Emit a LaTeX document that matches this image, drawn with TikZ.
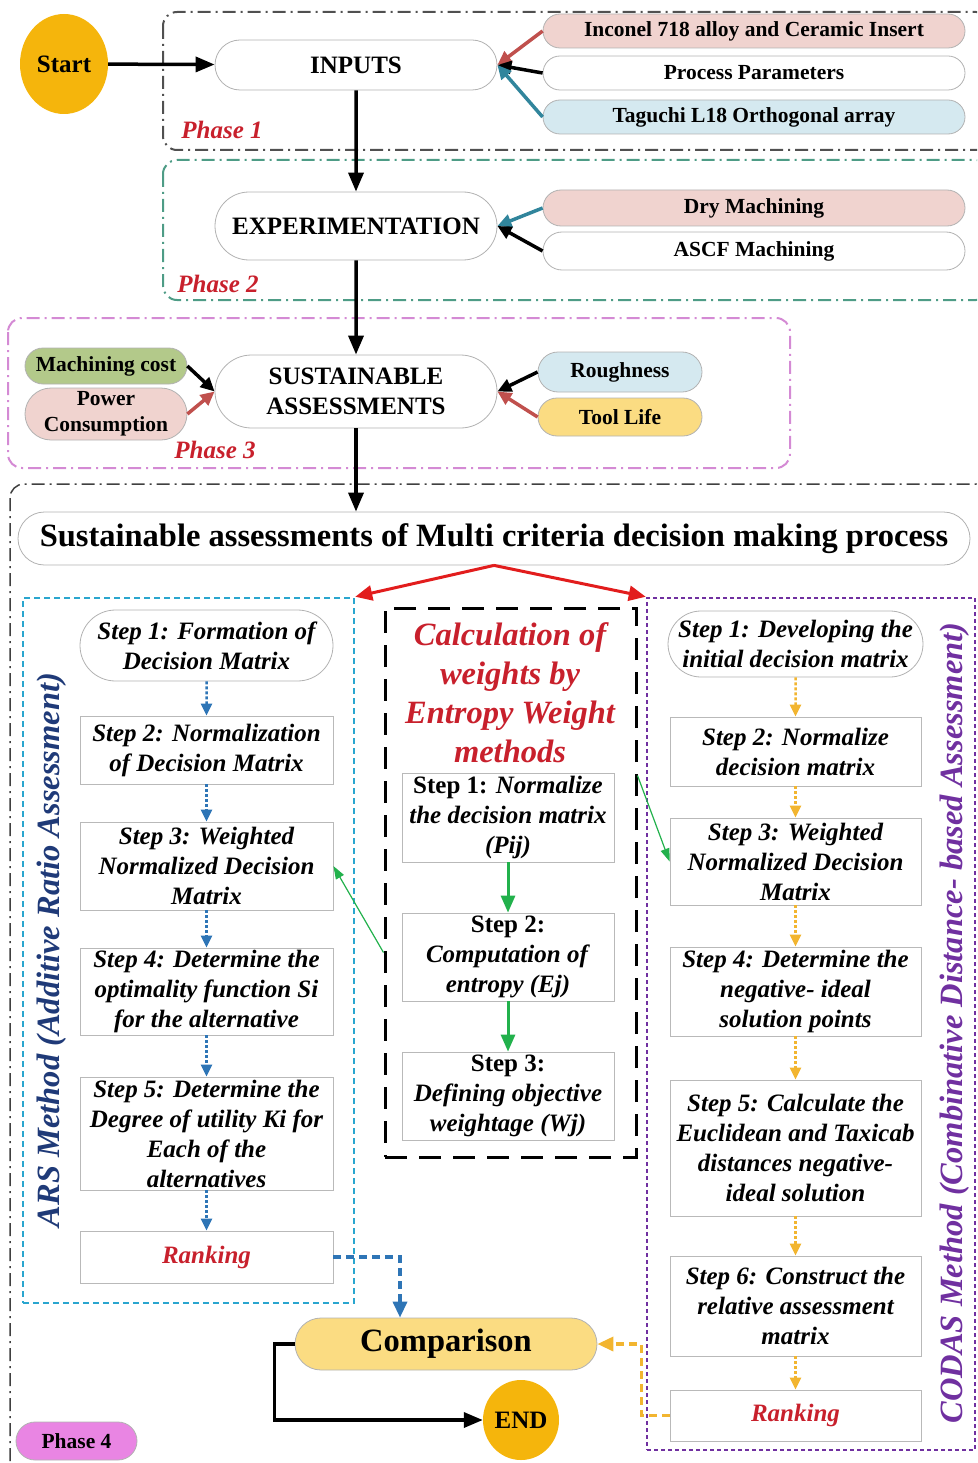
\documentclass[tikz,border=0pt]{standalone}
\usepackage{fontspec}
\setmainfont{Liberation Serif}
\usetikzlibrary{arrows.meta,shapes.misc,shapes.geometric}

\definecolor{startyel}{HTML}{F5B50C}
\definecolor{pinkfill}{HTML}{F0D3CF}
\definecolor{bluefill}{HTML}{D5E9F0}
\definecolor{greenfill}{HTML}{B3C98A}
\definecolor{yelfill}{HTML}{FBDC82}
\definecolor{magfill}{HTML}{E985E3}
\definecolor{phaseone}{HTML}{505050}
\definecolor{phasetwo}{HTML}{4E9C86}
\definecolor{phasethree}{HTML}{D48AD4}
\definecolor{arsblue}{HTML}{2AA6CF}
\definecolor{codpurple}{HTML}{7030A0}
\definecolor{navytext}{HTML}{1F3A78}
\definecolor{redlab}{HTML}{C8202C}
\definecolor{brick}{HTML}{C0504D}
\definecolor{tealarr}{HTML}{31859C}
\definecolor{stepblue}{HTML}{2E75B6}
\definecolor{stepgreen}{HTML}{22B14C}
\definecolor{stepyel}{HTML}{F2B530}
\definecolor{arrred}{HTML}{E21D1D}

\newcommand{\sizeA}{\fontsize{21.5}{26}\selectfont}
\newcommand{\sizeB}{\fontsize{25}{30}\selectfont}
\newcommand{\sizeC}{\fontsize{32.5}{39}\selectfont}

\tikzset{
  pill/.style={rounded rectangle, draw=gray!60, line width=0.8pt, fill=white, inner sep=0pt, align=center, font=\bfseries\sizeB},
  sidepill/.style={pill, minimum width=422pt, font=\bfseries\sizeA},
  stepbox/.style={rectangle, draw=gray!55, line width=0.8pt, fill=white, inner sep=0pt, align=center, font=\bfseries\itshape\sizeB},
  phasebox/.style={line width=2pt, rounded corners=14pt, dash pattern=on 13pt off 5pt on 2pt off 5pt},
  phaselabel/.style={font=\bfseries\itshape\sizeB, text=redlab},
  bigarrow/.style={line width=3.5pt, -{Triangle[length=19pt,width=15pt]}},
  sidearrow/.style={line width=3.5pt, -{Triangle[length=14pt,width=13pt]}},
  dotarrow/.style={line width=2.5pt, dash pattern=on 3pt off 2pt, -{Triangle[length=12pt,width=11pt]}},
  dasharrow/.style={line width=3.5pt, dash pattern=on 8pt off 5pt, -{Triangle[length=16pt,width=14pt]}},
  thinarrow/.style={stepgreen, line width=1.2pt, -{Triangle[length=13pt,width=9pt]}}
}

\begin{document}
\begin{tikzpicture}[x=1pt,y=-1pt]
\clip (0,0) rectangle (977,1463);

\draw[phasebox,phaseone] (163,12) rectangle (990,150);
\draw[phasebox,phasetwo] (163,160) rectangle (990,300);
\draw[phasebox,phasethree] (8,318) rectangle (790,468);
\draw[phasebox,black!75,line width=1.5pt] (10,484) rectangle (990,1475);

\node[ellipse, fill=startyel, minimum width=88pt, minimum height=100pt, inner sep=0pt, font=\bfseries\sizeB] (start) at (64,64) {Start};
\node[pill, minimum width=282pt, minimum height=50pt] (inputs) at (356,65) {INPUTS};
\node[sidepill, fill=pinkfill, minimum height=34pt] (alloy) at (754,31) {Inconel 718 alloy and Ceramic Insert};
\node[sidepill, minimum height=34pt] (params) at (754,73) {Process Parameters};
\node[sidepill, fill=bluefill, minimum height=34pt] (taguchi) at (754,117) {Taguchi L18 Orthogonal array};
\node[phaselabel] (ph1) at (222,130) {Phase 1};

\node[pill, minimum width=282pt, minimum height=68pt] (expt) at (356,226) {EXPERIMENTATION};
\node[sidepill, fill=pinkfill, minimum height=36pt] (dry) at (754,208) {Dry Machining};
\node[sidepill, minimum height=38pt] (ascf) at (754,251) {ASCF Machining};
\node[phaselabel] (ph2) at (218,284) {Phase 2};

\node[pill, minimum width=282pt, minimum height=73pt] (sust) at (356,391.5) {SUSTAINABLE\\ASSESSMENTS};
\node[pill, fill=greenfill, minimum width=162pt, minimum height=36pt, font=\bfseries\sizeA] (cost) at (106,366) {Machining cost};
\node[pill, fill=pinkfill, minimum width=162pt, minimum height=52pt, font=\bfseries\sizeA] (power) at (106,414) {Power\\Consumption};
\node[pill, fill=bluefill, minimum width=164pt, minimum height=40pt, font=\bfseries\sizeA] (rough) at (620,372) {Roughness};
\node[pill, fill=yelfill, minimum width=164pt, minimum height=38pt, font=\bfseries\sizeA] (tool) at (620,417) {Tool Life};
\node[phaselabel] (ph3) at (215,450) {Phase 3};

\draw[bigarrow] (start) -- (inputs);
\draw[sidearrow, brick] (alloy.west) -- (inputs.east);
\draw[sidearrow] (params.west) -- (inputs.east);
\draw[sidearrow, tealarr] (taguchi.west) -- (inputs.east);
\draw[bigarrow] (inputs) -- (expt);
\draw[sidearrow, tealarr] (dry.west) -- (expt.east);
\draw[sidearrow] (ascf.west) -- (expt.east);
\draw[bigarrow] (expt) -- (sust);
\draw[sidearrow] (cost.east) -- (sust.west);
\draw[sidearrow, brick] (power.east) -- (sust.west);
\draw[sidearrow] (rough.west) -- (sust.east);
\draw[sidearrow, brick] (tool.west) -- (sust.east);

\node[pill, minimum width=952pt, minimum height=53pt, font=\bfseries\sizeC] (main) at (494,538.5) {Sustainable assessments of Multi criteria decision making process};
\draw[bigarrow] (sust.south) -- (sust.south |- main.north);

\node[draw=arsblue, line width=2.5pt, dash pattern=on 6pt off 4pt, minimum width=331pt, minimum height=705pt, inner sep=0pt] (arsbox) at (188.5,950.5) {};
\node[draw=codpurple, line width=2.5pt, dash pattern=on 4pt off 3pt, minimum width=328pt, minimum height=852pt, inner sep=0pt] (codbox) at (811,1024) {};
\node[draw, line width=3pt, dash pattern=on 22pt off 12pt, minimum width=251pt, minimum height=549pt, inner sep=0pt] (entbox) at (510.5,882.5) {};
\draw[line width=3pt, arrred, -{Triangle[length=17pt,width=15pt]}] (main.south) -- (arsbox.north east);
\draw[line width=3pt, arrred, -{Triangle[length=17pt,width=15pt]}] (main.south) -- (codbox.north west);

\node[rotate=90, font=\bfseries\itshape\sizeC, text=navytext] (arslab) at (52,950) {ARS Method (Additive Ratio Assessment)};
\node[pill, minimum width=253pt, minimum height=71pt, font=\bfseries\itshape\sizeB] (a1) at (206.5,645.5) {Step 1: Formation of\\Decision Matrix};
\node[stepbox, minimum width=253pt, minimum height=68pt] (a2) at (206.5,750) {Step 2: Normalization\\of Decision Matrix};
\node[stepbox, minimum width=253pt, minimum height=88pt] (a3) at (206.5,866) {Step 3: Weighted\\Normalized Decision\\Matrix};
\node[stepbox, minimum width=253pt, minimum height=87pt] (a4) at (206.5,991.5) {Step 4: Determine the\\optimality function Si\\for the alternative};
\node[stepbox, minimum width=253pt, minimum height=113pt] (a5) at (206.5,1133.5) {Step 5: Determine the\\Degree of utility Ki for\\Each of the\\alternatives};
\node[stepbox, minimum width=253pt, minimum height=52pt, text=redlab] (arank) at (206.5,1257) {Ranking};
\foreach \i/\j in {a1/a2,a2/a3,a3/a4,a4/a5,a5/arank}
  \draw[dotarrow, stepblue] (\i) -- (\j);

\node[font=\bfseries\itshape\sizeC, text=redlab, align=center] (enttitle) at (510,692.5) {Calculation of\\weights by\\Entropy Weight\\methods};
\node[stepbox, minimum width=212pt, minimum height=89pt, font=\bfseries\sizeB] (e1) at (508,817.5) {Step 1: \textit{Normalize}\\\textit{the decision matrix}\\\textit{(Pij)}};
\node[stepbox, minimum width=212pt, minimum height=88pt, font=\bfseries\sizeB] (e2) at (508,957) {Step 2:\\\textit{Computation of}\\\textit{entropy (Ej)}};
\node[stepbox, minimum width=212pt, minimum height=88pt, font=\bfseries\sizeB] (e3) at (508,1096) {Step 3:\\\textit{Defining objective}\\\textit{weightage (Wj)}};
\foreach \i/\j in {e1/e2,e2/e3}
  \draw[line width=3pt, stepgreen, -{Triangle[length=17pt,width=14pt]}] (\i) -- (\j);

\node[rotate=90, font=\bfseries\itshape\sizeC, text=codpurple] (codlab) at (955,1023) {CODAS Method (Combinative Distance- based Assessment)};
\node[pill, minimum width=251pt, minimum height=66pt, font=\bfseries\itshape\sizeB] (c1) at (795.5,644) {Step 1: Developing the\\initial decision matrix};
\node[stepbox, minimum width=251pt, minimum height=69pt] (c2) at (795.5,751.5) {Step 2: Normalize\\decision matrix};
\node[stepbox, minimum width=251pt, minimum height=87pt] (c3) at (795.5,861.5) {Step 3: Weighted\\Normalized Decision\\Matrix};
\node[stepbox, minimum width=251pt, minimum height=89pt] (c4) at (795.5,991.5) {Step 4: Determine the\\negative- ideal\\solution points};
\node[stepbox, minimum width=251pt, minimum height=136pt] (c5) at (795.5,1148) {Step 5: Calculate the\\Euclidean and Taxicab\\distances negative-\\ideal solution};
\node[stepbox, minimum width=251pt, minimum height=100pt] (c6) at (795.5,1306) {Step 6: Construct the\\relative assessment\\matrix};
\node[stepbox, minimum width=251pt, minimum height=51pt, text=redlab] (crank) at (795.5,1415.5) {Ranking};
\foreach \i/\j in {c1/c2,c2/c3,c3/c4,c4/c5,c5/c6,c6/crank}
  \draw[dotarrow, stepyel] (\i) -- (\j);

\draw[thinarrow] ([yshift=-70pt]entbox.west) -- (a3.east);
\draw[thinarrow] ([yshift=107pt]entbox.east) -- (c3.west);

\node[pill, fill=yelfill, minimum width=302pt, minimum height=52pt, font=\bfseries\sizeC] (comp) at (446,1344) {Comparison};
\node[ellipse, fill=startyel, minimum width=76pt, minimum height=80pt, inner sep=0pt, font=\bfseries\sizeB] (endn) at (521,1420) {END};
\node[pill, fill=magfill, minimum width=121pt, minimum height=38pt, font=\bfseries\sizeA] (ph4) at (76.5,1441) {Phase 4};

\draw[dasharrow, stepblue] (arank.east) -| ([xshift=-46pt]comp.north);
\draw[dasharrow, stepyel] (crank.west) -- ++(-28,0) |- (comp.east);
\draw[bigarrow] (comp.west) -- ++(-20,0) |- (endn.west);
\end{tikzpicture}
\end{document}
